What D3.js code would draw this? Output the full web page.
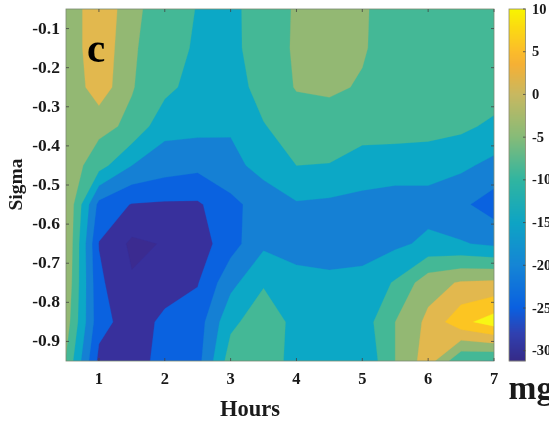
<!DOCTYPE html>
<html><head><meta charset="utf-8">
<script src="https://cdn.jsdelivr.net/npm/d3@7/dist/d3.min.js"></script>
<style>html,body{margin:0;padding:0;background:#fff;overflow:hidden}
svg{display:block;filter:blur(0.45px)}
text{font-family:"Liberation Serif",serif;font-weight:bold;fill:#1a1a1a}</style>
</head><body><svg id="c" width="549" height="424"></svg>
<script>
const hours=[0.5,1,1.5,2,2.5,3,3.5,4,4.5,5,5.5,6,6.5,7];
const sigma=[-0.05,-0.15,-0.25,-0.35,-0.45,-0.55,-0.65,-0.75,-0.85,-0.95];
const row0=[-4.5,4.5,-3.6,-7.8,-10.2,-11.5,-7,-4.6,-3.5,-4.4,-7.3,-7,-7,-7];
const row1=[-4,4,-4.4,-7.6,-10.8,-11.6,-7,-4.5,-3.5,-4.6,-7,-7,-7,-7];
const row2=[-4.6,3.1,-4.7,-8.5,-12.3,-12.5,-8,-4.7,-4.3,-5.4,-7,-7,-7,-7.5];
const row3=[-2.5,-3.5,-6.1,-13.5,-13.5,-14.5,-10.3,-7.5,-7,-7.5,-8,-8,-9,-11];
const row4=[-1.75,-8,-15,-17.5,-18.7,-16.3,-13.5,-10,-10.2,-12.7,-12.5,-13.2,-14,-16.4];
const row5=[0,-21.5,-25.3,-25.7,-25.7,-21.5,-17.5,-15.5,-16,-16.3,-17.4,-16.7,-19,-22.5];
const row6=[0,-25.2,-31,-29.7,-27.5,-22,-16,-18,-17.5,-17,-16,-14,-14.6,-16];
const row7=[-1,-24,-29.5,-27,-25.3,-16.5,-10.5,-12.5,-13.8,-13.5,-9.5,-2,0.5,1];
const row8=[-2.5,-23.3,-27.3,-24,-22.5,-11.2,-7,-11.5,-13,-12.6,-5,1.2,8.5,12.5];
const row9=[-5.5,-26.3,-27.5,-23,-21.7,-7.4,-8,-11.3,-13.5,-14.5,-5,2.5,-9.5,-10.5];
const levels=[-40,-30,-25,-20,-15,-10,-5,0,5,10];
const bandColors=["#3b2b90","#38309c","#0a62e0","#1580d4","#0ca8c6","#44b896","#93b873","#e2b84e","#fcc522","#f8f714"];
const cbValues=[-31.2,-28,-25,-20,-15,-10,-5,0,3.5,5,8,10];
const cbColors=["#352a87","#3040b0","#0a60e0","#1585d5","#0ea4c4","#30b5a0","#86bb78","#c8b860","#f5b035","#fbbc2a","#fbdc10","#f8f500"];
const xTicks=[1,2,3,4,5,6,7];
const yTicks=[-0.1,-0.2,-0.3,-0.4,-0.5,-0.6,-0.7,-0.8,-0.9];
const cbTicks=[10,5,0,-5,-10,-15,-20,-25,-30];
const grid=[row0,row1,row2,row3,row4,row5,row6,row7,row8,row9];

const L=66,R=494,T=9,B=361;
const x=d3.scaleLinear().domain([0.5,7]).range([L,R]);
const y=d3.scaleLinear().domain([-0.05,-0.95]).range([T,B]);
const svg=d3.select("#c");
svg.append("defs").append("clipPath").attr("id","plot").append("rect")
  .attr("x",L).attr("y",T).attr("width",R-L).attr("height",B-T);

// index space of d3.contours: sample i sits at i+0.5
const ix=d3.scaleLinear().domain([0.5,hours.length-0.5]).range([x(hours[0]),x(hours[hours.length-1])]);
const iy=d3.scaleLinear().domain([0.5,sigma.length-0.5]).range([y(sigma[0]),y(sigma[sigma.length-1])]);
const contours=d3.contours().size([hours.length,sigma.length]).smooth(true).thresholds(levels);
const path=d3.geoPath(d3.geoTransform({point(a,b){this.stream.point(ix(a),iy(b));}}));
const flat=grid.flat();
const g=svg.append("g").attr("clip-path","url(#plot)");
g.selectAll("path").data(contours(flat)).join("path")
  .attr("d",path).attr("fill",(d,i)=>bandColors[i]).attr("stroke",(d,i)=>bandColors[i]).attr("stroke-width",0.3);

// box + ticks
svg.append("rect").attr("x",L).attr("y",T).attr("width",R-L).attr("height",B-T)
  .attr("fill","none").attr("stroke","#7a8a70").attr("stroke-width",0.8);
const tickCol="#444";
const tk=svg.append("g").attr("stroke",tickCol).attr("stroke-width",0.8);
xTicks.forEach(v=>{
  tk.append("line").attr("x1",x(v)).attr("x2",x(v)).attr("y1",B).attr("y2",B-3);
  tk.append("line").attr("x1",x(v)).attr("x2",x(v)).attr("y1",T).attr("y2",T+3);
});
yTicks.forEach(v=>{
  tk.append("line").attr("x1",L).attr("x2",L+3).attr("y1",y(v)).attr("y2",y(v));
  tk.append("line").attr("x1",R).attr("x2",R-3).attr("y1",y(v)).attr("y2",y(v));
});
svg.selectAll(".xl").data(xTicks).join("text").attr("class","xl")
  .attr("x",d=>x(d)).attr("y",384).attr("text-anchor","middle").attr("font-size",16.5).text(d=>d);
svg.selectAll(".yl").data(yTicks).join("text").attr("class","yl")
  .attr("x",60).attr("y",d=>y(d)+5).attr("text-anchor","end").attr("font-size",17.5).text(d=>d.toFixed(1));
svg.append("text").attr("x",250).attr("y",416).attr("text-anchor","middle").attr("font-size",22.5).text("Hours");
svg.append("text").attr("transform","translate(22,184.5) rotate(-90)").attr("text-anchor","middle").attr("font-size",19.5).text("Sigma");
svg.append("text").attr("x",87).attr("y",62).attr("font-size",41).style("fill","#000").text("c");

// colour bar
const cbL=509,cbR=525.5;
const cy=d3.scaleLinear().domain([-31.2,10]).range([B,T]);
const pc=d3.scaleLinear().domain(cbValues).range(cbColors);
svg.append("g").selectAll("rect").data(d3.range(B-T)).join("rect")
  .attr("x",cbL).attr("y",d=>T+d).attr("width",cbR-cbL).attr("height",1.2)
  .attr("fill",d=>pc(cy.invert(T+d+0.5)));
svg.append("rect").attr("x",cbL).attr("y",T).attr("width",cbR-cbL).attr("height",B-T)
  .attr("fill","none").attr("stroke","#8a8a70").attr("stroke-width",0.8);
svg.selectAll(".cl").data(cbTicks).join("text").attr("class","cl")
  .attr("x",532).attr("y",d=>cy(d)+4.5).attr("font-size",14.5).text(d=>d);
const ct=svg.append("g").attr("stroke",tickCol).attr("stroke-width",0.8);
cbTicks.forEach(v=>ct.append("line").attr("x1",cbR).attr("x2",cbR-2.5).attr("y1",cy(v)).attr("y2",cy(v)));
svg.append("text").attr("x",508.5).attr("y",399).attr("font-size",33.5).text("mg");
</script></body></html>
